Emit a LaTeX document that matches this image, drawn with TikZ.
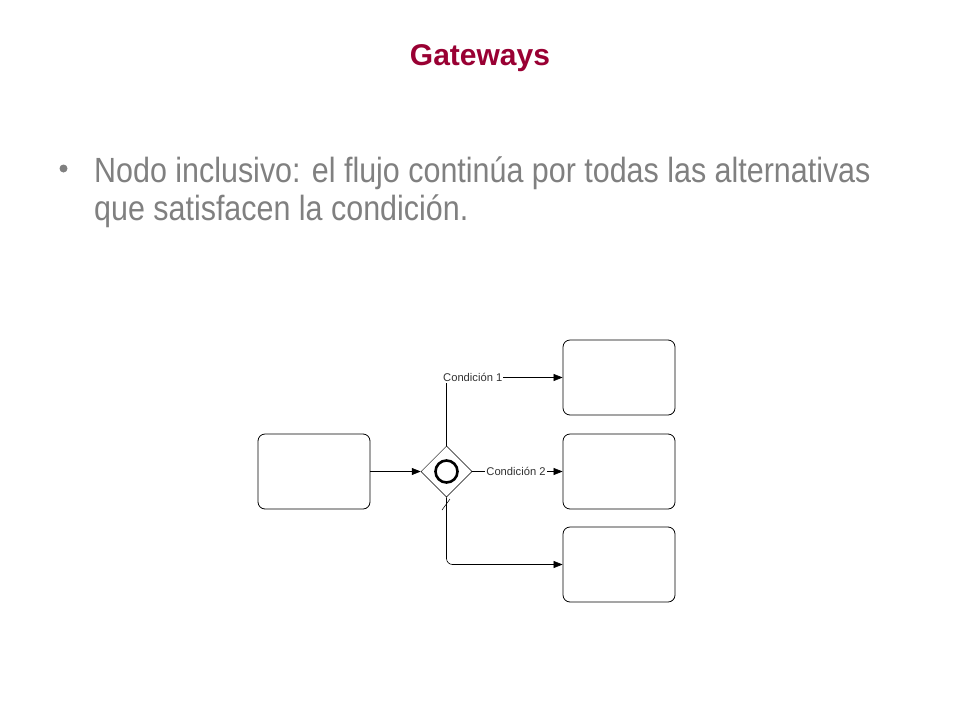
\documentclass[tikz,border=0pt]{standalone}
\usepackage{fontspec}
\setmainfont{Liberation Sans}[FakeStretch=0.87]
\newfontfamily\labelfont{Liberation Sans}
\usetikzlibrary{arrows.meta,shapes.geometric,positioning}
\definecolor{titlered}{HTML}{990033}
\definecolor{textgray}{HTML}{808080}

\begin{document}
\begin{tikzpicture}[x=1pt, y=-1pt,
	task/.style = {draw, rounded corners=7pt, minimum width=112pt, minimum height=75pt, line width=0.8pt},
	gate/.style = {draw, diamond, minimum size=51pt, inner sep=0pt, line width=0.5pt},
	flow/.style = {-{Triangle[length=9pt,width=7pt]}, line width=0.6pt},
	cond/.style = {fill=white, inner sep=1pt, text=black!80, font=\labelfont\fontsize{11.2}{12}\selectfont}]
	\useasboundingbox (0,0) rectangle (960,720);
	\fill[white] (0,0) rectangle (960,720);
	% title and text
	\node[font=\labelfont\bfseries\fontsize{30}{36}\selectfont, text=titlered] (title) at (480,58) {Gateways};
	\fill[textgray] (63.5,168.5) circle (4);
	\node[anchor=base west, inner sep=0pt, font=\fontsize{35}{40}\selectfont, text=textgray] (line1) at (94,182) {Nodo inclusivo: el flujo continúa por todas las alternativas};
	\node[anchor=base west, inner sep=0pt, font=\fontsize{35}{40}\selectfont, text=textgray] (line2) at (94,220) {que satisfacen la condición.};
	% diagram
	\node[task] (start) at (314,471.5) {};
	\node[gate] (gw) at (446.5,471.5) {};
	\node[draw, circle, line width=2.6pt, minimum size=22pt, inner sep=0pt] (inc) at (gw) {};
	\node[task] (t1) at (619,377.5) {};
	\node[task] (t2) at (619,471.5) {};
	\node[task] (t3) at (619,564.5) {};
	\draw[flow] (start) -- (gw);
	\draw[flow] (gw.north) |- (t1.west);
	\draw[flow] (gw) -- (t2);
	\draw[flow, rounded corners=6pt] (gw.south) |- (t3.west);
	\draw[line width=0.5pt] (442,510) -- (450,499);
	\node[cond, anchor=west] (c1) at (442,377.5) {Condición 1};
	\node[cond] (c2) at (516,471.5) {Condición 2};
\end{tikzpicture}
\end{document}
